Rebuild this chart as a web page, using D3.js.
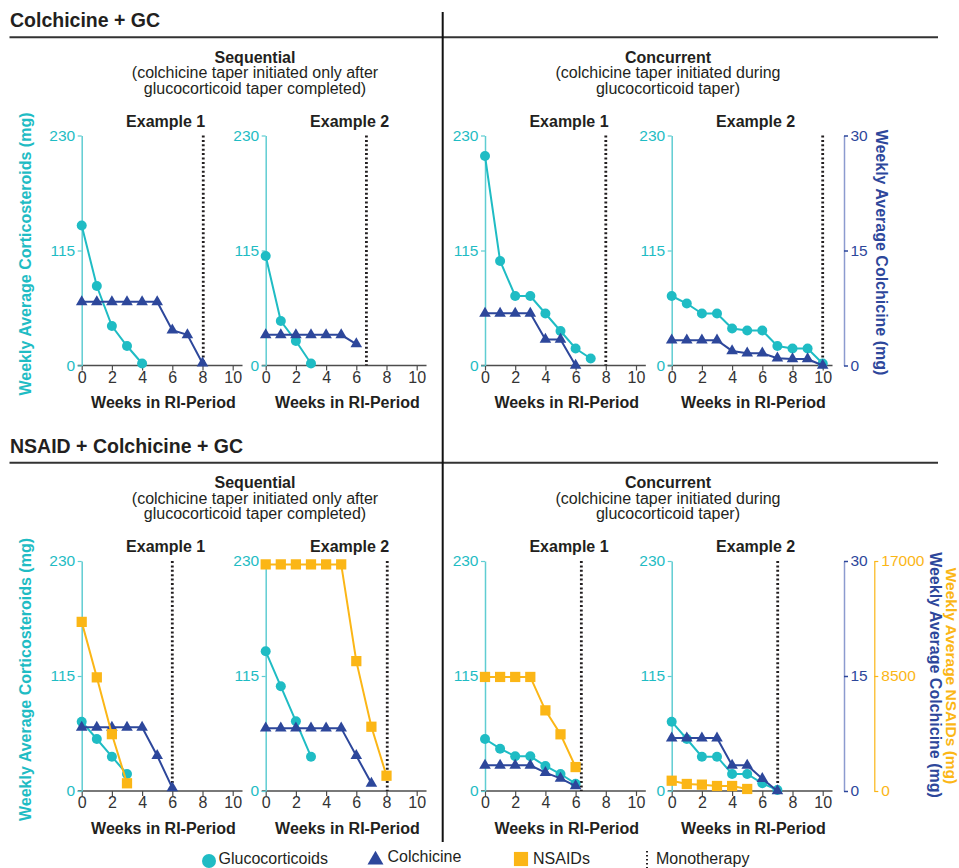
<!DOCTYPE html>
<html><head><meta charset="utf-8">
<script src="https://cdn.jsdelivr.net/npm/d3@7"></script>
<style>
html,body{margin:0;padding:0;background:#fff;}
svg{display:block;font-family:"Liberation Sans",Arial,Helvetica,sans-serif;}
</style></head>
<body>
<svg id="chart" width="959" height="868"></svg>
<script>
// ---------- DATA ----------
const sectionTitles = ["Colchicine + GC", "NSAID + Colchicine + GC"];
const groupTitles = ["Sequential", "Concurrent"];
const groupSubtitles = [
  ["(colchicine taper initiated only after", "glucocorticoid taper completed)"],
  ["(colchicine taper initiated during", "glucocorticoid taper)"]
];
const exampleTitles = ["Example 1", "Example 2", "Example 1", "Example 2"];
const weekTicks = [0, 2, 4, 6, 8, 10];
const gcTicks = [0, 115, 230];
const colTicks = [0, 15, 30];
const nsaidTicks = [0, 8500, 17000];
const legendLabels = ["Glucocorticoids", "Colchicine", "NSAIDs", "Monotherapy"];

// Colchicine + GC (weekly average, index = week)
const gcSeqEx1  = [140, 79.5, 39.5, 19.5, 2];
const colSeqEx1 = [8.3, 8.3, 8.3, 8.3, 8.3, 8.3, 4.6, 4.0, 0.3];
const gcSeqEx2  = [109.5, 44.5, 24.5, 2];
const colSeqEx2 = [4.0, 4.0, 4.0, 4.0, 4.0, 4.0, 2.8];
const gcConEx1  = [209.5, 104.5, 69.5, 69.5, 52, 34.5, 17, 7];
const colConEx1 = [6.8, 6.8, 6.8, 6.8, 3.4, 3.4, 0];
const gcConEx2  = [69.5, 62, 52, 52, 37, 35, 35, 19.5, 17, 17, 2];
const colConEx2 = [3.3, 3.3, 3.3, 3.3, 1.9, 1.6, 1.6, 0.95, 0.85, 0.85, 0];

// NSAID + Colchicine + GC
const gcNSeqEx1    = [69.3, 52, 34.3, 17];
const colNSeqEx1   = [8.3, 8.3, 8.3, 8.3, 8.3, 4.6, 0.4];
const nsaidNSeqEx1 = [12500, 8400, 4200, 570];
const gcNSeqEx2    = [139.7, 104.7, 69.7, 34.3];
const colNSeqEx2   = [8.2, 8.2, 8.2, 8.2, 8.2, 8.2, 4.6, 1.0];
const nsaidNSeqEx2 = [16750, 16750, 16750, 16750, 16750, 16750, 9600, 4750, 1130];
const gcNConEx1    = [52, 42.3, 34.7, 34.7, 25, 17, 7.3];
const colNConEx1   = [3.35, 3.35, 3.35, 3.35, 2.4, 1.65, 0.65];
const nsaidNConEx1 = [8430, 8430, 8430, 8430, 5960, 4190, 1770];
const gcNConEx2    = [69.3, 52, 34.3, 34.3, 17, 17, 7.7, 1];
const colNConEx2   = [6.9, 6.9, 6.9, 6.9, 3.35, 3.35, 1.6, 0];
const nsaidNConEx2 = [760, 520, 470, 370, 370, 150];

// Start of monotherapy (week)
const monoWeeks = [8.05, 6.67, 8, 10, 6, 8.05, 6.38, 7.02];

// ---------- STYLE / LAYOUT ----------
const cyan = "#1fbcc4", cyanAxis = "#5fcdd2", navy = "#2d479b", navyAxis = "#8c9bcf",
      orange = "#fbb616", ink = "#231f20", axisGray = "#4d4d4d";
const panelX = [81.7, 265.7, 485, 671.7];
const rowY0 = [365.5, 791];
const plotH = 230, weekW = 151;
const rowShift = 425.5;

const svg = d3.select("#chart");
svg.append("rect").attr("width", 959).attr("height", 868).attr("fill", "#fff");

// Section headers and dividers
[0, 1].forEach(r => {
  const dy = r * rowShift;
  svg.append("text").attr("x", 10).attr("y", 27.3 + dy)
    .attr("font-size", 19.5).attr("font-weight", "bold").attr("fill", ink)
    .text(sectionTitles[r]);
  svg.append("line").attr("x1", 9.5).attr("x2", 938).attr("y1", 37.3 + dy).attr("y2", 37.3 + dy)
    .attr("stroke", "#333").attr("stroke-width", 2);
  [255, 668].forEach((cx, g) => {
    svg.append("text").attr("x", cx).attr("y", 62.5 + dy).attr("text-anchor", "middle")
      .attr("font-size", 16).attr("font-weight", "bold").attr("fill", ink).text(groupTitles[g]);
    groupSubtitles[g].forEach((s, i) => {
      svg.append("text").attr("x", cx).attr("y", 78 + i * 15.5 + dy).attr("text-anchor", "middle")
        .attr("font-size", 16).attr("fill", ink).text(s);
    });
  });
});
svg.append("line").attr("x1", 442.7).attr("x2", 442.7).attr("y1", 12).attr("y2", 842)
  .attr("stroke", "#111").attr("stroke-width", 2);

// Panels
const panels = [
  {r: 0, p: 0, gc: gcSeqEx1, col: colSeqEx1, ns: null, mono: monoWeeks[0]},
  {r: 0, p: 1, gc: gcSeqEx2, col: colSeqEx2, ns: null, mono: monoWeeks[1]},
  {r: 0, p: 2, gc: gcConEx1, col: colConEx1, ns: null, mono: monoWeeks[2]},
  {r: 0, p: 3, gc: gcConEx2, col: colConEx2, ns: null, mono: monoWeeks[3]},
  {r: 1, p: 0, gc: gcNSeqEx1, col: colNSeqEx1, ns: nsaidNSeqEx1, mono: monoWeeks[4]},
  {r: 1, p: 1, gc: gcNSeqEx2, col: colNSeqEx2, ns: nsaidNSeqEx2, mono: monoWeeks[5]},
  {r: 1, p: 2, gc: gcNConEx1, col: colNConEx1, ns: nsaidNConEx1, mono: monoWeeks[6]},
  {r: 1, p: 3, gc: gcNConEx2, col: colNConEx2, ns: nsaidNConEx2, mono: monoWeeks[7]}
];

const triSym = d3.symbol().type(d3.symbolTriangle).size(58);
const sqSym = d3.symbol().type(d3.symbolSquare).size(105);
const tickFont = "Liberation Sans, Arial, sans-serif";

panels.forEach(pn => {
  const x0 = panelX[pn.p], y0 = rowY0[pn.r];
  const x = d3.scaleLinear().domain([0, 10]).range([x0, x0 + weekW]);
  const yG = d3.scaleLinear().domain([0, 230]).range([y0, y0 - plotH]);
  const yC = d3.scaleLinear().domain([0, 30]).range([y0, y0 - plotH]);
  const yN = d3.scaleLinear().domain([0, 17000]).range([y0, y0 - plotH]);
  const g = svg.append("g");

  // Example title
  g.append("text").attr("x", x0 + 84).attr("y", y0 - 238.8).attr("text-anchor", "middle")
    .attr("font-size", 16).attr("font-weight", "bold").attr("fill", ink).text(exampleTitles[pn.p]);

  // x axis
  const xa = g.append("g").attr("transform", `translate(0,${y0})`)
    .call(d3.axisBottom(x).tickValues(weekTicks).tickSize(5).tickPadding(1).tickSizeOuter(0));
  xa.select(".domain").remove();
  xa.selectAll(".tick line").attr("stroke", axisGray).attr("stroke-width", 1.2);
  xa.selectAll(".tick text").attr("font-size", 16).attr("fill", "#333").attr("font-family", tickFont);
  g.append("line").attr("x1", x0 - 4).attr("x2", x(10.65)).attr("y1", y0).attr("y2", y0)
    .attr("stroke", axisGray).attr("stroke-width", 1.5);
  g.append("text").attr("x", x0 + 81.7).attr("y", y0 + 42.5).attr("text-anchor", "middle")
    .attr("font-size", 16).attr("font-weight", "bold").attr("fill", ink).text("Weeks in RI-Period");

  // left GC axis
  const ya = g.append("g").attr("transform", `translate(${x0},0)`)
    .call(d3.axisLeft(yG).tickValues(gcTicks).tickSize(4).tickPadding(2.5).tickSizeOuter(0));
  ya.select(".domain").attr("stroke", cyanAxis).attr("stroke-width", 1.5);
  ya.selectAll(".tick line").attr("stroke", cyanAxis).attr("stroke-width", 1.2);
  ya.selectAll(".tick text").attr("font-size", 15.5).attr("fill", cyan).attr("font-family", tickFont);

  // Monotherapy
  g.append("line").attr("x1", x(pn.mono)).attr("x2", x(pn.mono))
    .attr("y1", y0 - plotH).attr("y2", y0)
    .attr("stroke", ink).attr("stroke-width", 2.8).attr("stroke-dasharray", "2,2.4");

  // GC
  const gcPts = pn.gc.map((v, i) => [x(i), yG(v)]);
  g.append("path").attr("d", d3.line()(gcPts)).attr("fill", "none")
    .attr("stroke", cyan).attr("stroke-width", 2);
  g.selectAll(null).data(gcPts).join("circle")
    .attr("cx", d => d[0]).attr("cy", d => d[1]).attr("r", 5).attr("fill", cyan);

  // Colchicine
  const colPts = pn.col.map((v, i) => [x(i), yC(v)]);
  g.append("path").attr("d", d3.line()(colPts)).attr("fill", "none")
    .attr("stroke", navy).attr("stroke-width", 2);
  g.selectAll(null).data(colPts).join("path")
    .attr("d", triSym).attr("transform", d => `translate(${d[0]},${d[1]})`).attr("fill", navy);

  // NSAIDs
  if (pn.ns) {
    const nPts = pn.ns.map((v, i) => [x(i), yN(v)]);
    g.append("path").attr("d", d3.line()(nPts)).attr("fill", "none")
      .attr("stroke", orange).attr("stroke-width", 2);
    g.selectAll(null).data(nPts).join("path")
      .attr("d", sqSym).attr("transform", d => `translate(${d[0]},${d[1]})`).attr("fill", orange);
  }

  // Left axis title (first panel of each row)
  if (pn.p === 0) {
    g.append("text").attr("transform", `translate(31,${y0 - 111.5}) rotate(-90)`)
      .attr("text-anchor", "middle").attr("font-size", 16).attr("font-weight", "bold")
      .attr("fill", cyan).text("Weekly Average Corticosteroids (mg)");
  }

  // Right axes (last panel of each row)
  if (pn.p === 3) {
    const ca = g.append("g").attr("transform", "translate(844,0)")
      .call(d3.axisRight(yC).tickValues(colTicks).tickSize(4).tickPadding(2.5).tickSizeOuter(0));
    ca.select(".domain").attr("stroke", navyAxis).attr("stroke-width", 1.5);
    ca.selectAll(".tick line").attr("stroke", navy).attr("stroke-width", 1.5);
    ca.selectAll(".tick text").attr("font-size", 15.5).attr("fill", navy).attr("font-family", tickFont);
    if (pn.r === 0) {
      g.append("text").attr("transform", `translate(876,${y0 - 113}) rotate(90)`)
        .attr("text-anchor", "middle").attr("font-size", 16).attr("font-weight", "bold")
        .attr("fill", navy).text("Weekly Average Colchicine (mg)");
    } else {
      const na = g.append("g").attr("transform", "translate(874.3,0)")
        .call(d3.axisRight(yN).tickValues(nsaidTicks).tickFormat(d3.format("d"))
          .tickSize(4).tickPadding(3).tickSizeOuter(0));
      na.select(".domain").attr("stroke", orange).attr("stroke-width", 1.2);
      na.selectAll(".tick line").attr("stroke", orange).attr("stroke-width", 1.2);
      na.selectAll(".tick text").attr("font-size", 15.5).attr("fill", orange).attr("font-family", tickFont);
      g.append("text").attr("transform", `translate(929.5,${y0 - 116}) rotate(90)`)
        .attr("text-anchor", "middle").attr("font-size", 16).attr("font-weight", "bold")
        .attr("fill", navy).text("Weekly Average Colchicine (mg)");
      g.append("text").attr("transform", `translate(946,${y0 - 115}) rotate(90)`)
        .attr("text-anchor", "middle").attr("font-size", 15.5).attr("font-weight", "bold")
        .attr("fill", orange).text("Weekly Average NSAIDs (mg)");
    }
  }
});

// Legend
const lg = svg.append("g");
lg.append("circle").attr("cx", 209).attr("cy", 861).attr("r", 7).attr("fill", cyan);
lg.append("text").attr("x", 218.5).attr("y", 864).attr("font-size", 16).attr("fill", ink).text(legendLabels[0]);
lg.append("path").attr("d", d3.symbol().type(d3.symbolTriangle).size(110)())
  .attr("transform", "translate(375.5,860)").attr("fill", navy);
lg.append("text").attr("x", 387.5).attr("y", 862).attr("font-size", 16).attr("fill", ink).text(legendLabels[1]);
lg.append("path").attr("d", d3.symbol().type(d3.symbolSquare).size(200)())
  .attr("transform", "translate(521,859)").attr("fill", orange);
lg.append("text").attr("x", 533).attr("y", 864).attr("font-size", 16).attr("fill", ink).text(legendLabels[2]);
lg.append("line").attr("x1", 647).attr("x2", 647).attr("y1", 851).attr("y2", 868)
  .attr("stroke", ink).attr("stroke-width", 2).attr("stroke-dasharray", "1.6,2.4");
lg.append("text").attr("x", 656).attr("y", 864).attr("font-size", 16).attr("fill", ink).text(legendLabels[3]);
</script>
</body></html>
